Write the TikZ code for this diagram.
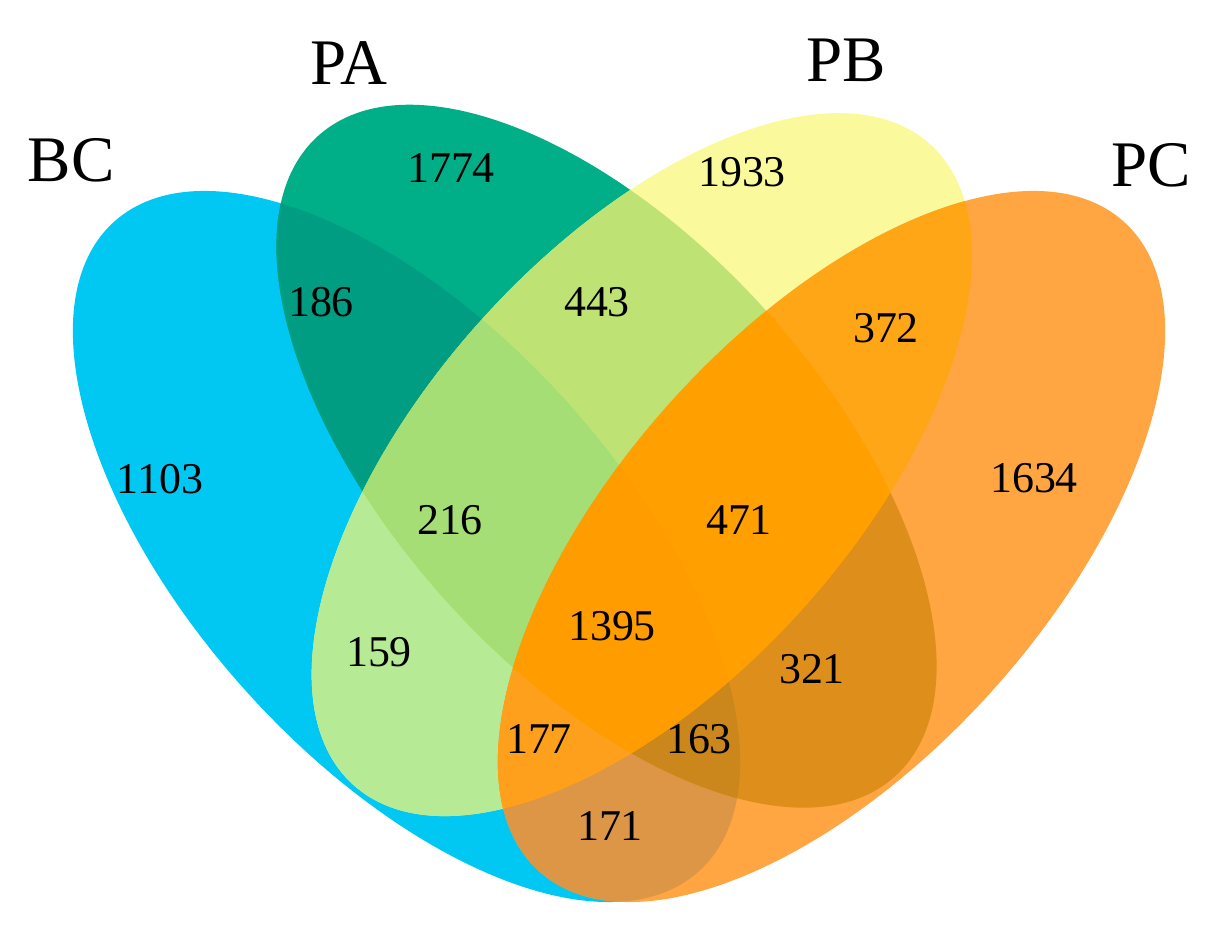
\documentclass[tikz,border=0pt]{standalone}
\usepackage{fontspec}
\setmainfont{Liberation Serif}
\definecolor{cBC}{RGB}{0,200,242}
\definecolor{cPA}{RGB}{0,174,136}
\definecolor{cPB}{RGB}{250,249,155}
\definecolor{cPC}{RGB}{255,165,66}
\definecolor{cBCPA}{RGB}{0,157,130}
\definecolor{cBCPB}{RGB}{183,234,148}
\definecolor{cBCPC}{RGB}{220,150,70}
\definecolor{cPAPB}{RGB}{190,226,116}
\definecolor{cPAPC}{RGB}{222,142,26}
\definecolor{cPBPC}{RGB}{255,166,22}
\definecolor{cBCPAPB}{RGB}{165,222,116}
\definecolor{cBCPAPC}{RGB}{204,135,28}
\definecolor{cBCPBPC}{RGB}{255,160,28}
\definecolor{cPAPBPC}{RGB}{255,159,0}
\definecolor{cALL}{RGB}{255,156,0}
\newcommand{\VennBC}[1]{\path[#1,shift={(406.5,387.5)},rotate=-48] (0,0) ellipse (437 and 216);}
\newcommand{\VennPA}[1]{\path[#1,shift={(606.5,477.8)},rotate=-48] (0,0) ellipse (431 and 216);}
\newcommand{\VennPB}[1]{\path[#1,shift={(641.8,469.4)},rotate=48] (0,0) ellipse (431 and 216);}
\newcommand{\VennPC}[1]{\path[#1,shift={(831.5,387.5)},rotate=48] (0,0) ellipse (437 and 216);}
\newcommand{\AllBox}[1]{\fill[#1] (0,0) rectangle (1218,934);}
\begin{document}
\begin{tikzpicture}[x=0.02cm,y=0.02cm,
  num/.style={inner sep=0pt,font=\fontsize{25}{30}\selectfont},
  setlabel/.style={inner sep=0pt,font=\fontsize{37}{44}\selectfont}]
\useasboundingbox (0,0) rectangle (1218,934);
% single sets
\VennBC{fill=cBC}
\VennPA{fill=cPA}
\VennPB{fill=cPB}
\VennPC{fill=cPC}
% pairs
\begin{scope}\VennBC{clip}\VennPA{clip}\AllBox{cBCPA}\end{scope}
\begin{scope}\VennBC{clip}\VennPB{clip}\AllBox{cBCPB}\end{scope}
\begin{scope}\VennBC{clip}\VennPC{clip}\AllBox{cBCPC}\end{scope}
\begin{scope}\VennPA{clip}\VennPB{clip}\AllBox{cPAPB}\end{scope}
\begin{scope}\VennPA{clip}\VennPC{clip}\AllBox{cPAPC}\end{scope}
\begin{scope}\VennPB{clip}\VennPC{clip}\AllBox{cPBPC}\end{scope}
% triples
\begin{scope}\VennBC{clip}\VennPA{clip}\VennPB{clip}\AllBox{cBCPAPB}\end{scope}
\begin{scope}\VennBC{clip}\VennPA{clip}\VennPC{clip}\AllBox{cBCPAPC}\end{scope}
\begin{scope}\VennBC{clip}\VennPB{clip}\VennPC{clip}\AllBox{cBCPBPC}\end{scope}
\begin{scope}\VennPA{clip}\VennPB{clip}\VennPC{clip}\AllBox{cPAPBPC}\end{scope}
% all four
\begin{scope}\VennBC{clip}\VennPA{clip}\VennPB{clip}\VennPC{clip}\AllBox{cALL}\end{scope}
% set labels
\node[setlabel] (lBC) at (71,774) {BC};
\node[setlabel] (lPA) at (349,871) {PA};
\node[setlabel] (lPB) at (846,874) {PB};
\node[setlabel] (lPC) at (1151,769) {PC};
% counts
\node[num] (n1774) at (451,766) {1774};
\node[num] (n1933) at (742,762) {1933};
\node[num] (n186) at (321,632) {186};
\node[num] (n443) at (597,632) {443};
\node[num] (n372) at (886,606) {372};
\node[num] (n1103) at (160,455) {1103};
\node[num] (n1634) at (1034,456) {1634};
\node[num] (n216) at (450,414) {216};
\node[num] (n471) at (739,414) {471};
\node[num] (n1395) at (612,308) {1395};
\node[num] (n159) at (379,282) {159};
\node[num] (n321) at (812,265) {321};
\node[num] (n177) at (539,195) {177};
\node[num] (n163) at (699,195) {163};
\node[num] (n171) at (610,108) {171};
\end{tikzpicture}
\end{document}
